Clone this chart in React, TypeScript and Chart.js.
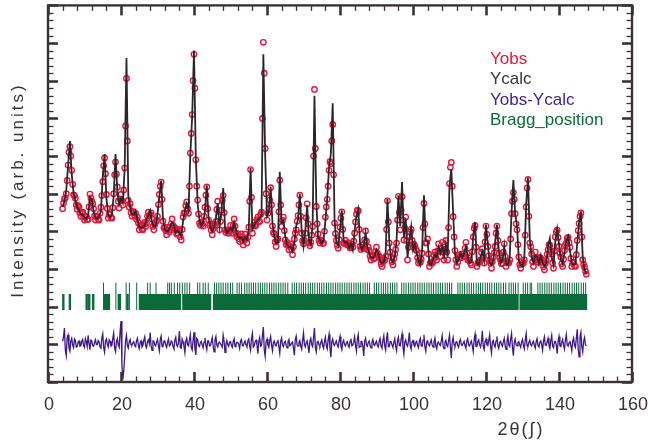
import React, { useEffect, useRef } from "react";
import { Chart, registerables } from "chart.js";

Chart.register(...registerables);

// 2-theta sampling positions (degrees)
const twoTheta = [
  4, 4.5, 5, 5.5, 6, 6.5, 7, 7.5, 8, 8.5,
  9, 9.5, 10, 10.5, 11, 11.5, 12, 12.5, 13, 13.5,
  14, 14.5, 15, 15.5, 16, 16.5, 17, 17.5, 18, 18.5,
  19, 19.5, 20, 20.5, 21, 21.5, 22, 22.5, 23, 23.5,
  24, 24.5, 25, 25.5, 26, 26.5, 27, 27.5, 28, 28.5,
  29, 29.5, 30, 30.5, 31, 31.5, 32, 32.5, 33, 33.5,
  34, 34.5, 35, 35.5, 36, 36.5, 37, 37.5, 38, 38.5,
  39, 39.5, 40, 40.5, 41, 41.5, 42, 42.5, 43, 43.5,
  44, 44.5, 45, 45.5, 46, 46.5, 47, 47.5, 48, 48.5,
  49, 49.5, 50, 50.5, 51, 51.5, 52, 52.5, 53, 53.5,
  54, 54.5, 55, 55.5, 56, 56.5, 57, 57.5, 58, 58.5,
  59, 59.5, 60, 60.5, 61, 61.5, 62, 62.5, 63, 63.5,
  64, 64.5, 65, 65.5, 66, 66.5, 67, 67.5, 68, 68.5,
  69, 69.5, 70, 70.5, 71, 71.5, 72, 72.5, 73, 73.5,
  74, 74.5, 75, 75.5, 76, 76.5, 77, 77.5, 78, 78.5,
  79, 79.5, 80, 80.5, 81, 81.5, 82, 82.5, 83, 83.5,
  84, 84.5, 85, 85.5, 86, 86.5, 87, 87.5, 88, 88.5,
  89, 89.5, 90, 90.5, 91, 91.5, 92, 92.5, 93, 93.5,
  94, 94.5, 95, 95.5, 96, 96.5, 97, 97.5, 98, 98.5,
  99, 99.5, 100, 100.5, 101, 101.5, 102, 102.5, 103, 103.5,
  104, 104.5, 105, 105.5, 106, 106.5, 107, 107.5, 108, 108.5,
  109, 109.5, 110, 110.5, 111, 111.5, 112, 112.5, 113, 113.5,
  114, 114.5, 115, 115.5, 116, 116.5, 117, 117.5, 118, 118.5,
  119, 119.5, 120, 120.5, 121, 121.5, 122, 122.5, 123, 123.5,
  124, 124.5, 125, 125.5, 126, 126.5, 127, 127.5, 128, 128.5,
  129, 129.5, 130, 130.5, 131, 131.5, 132, 132.5, 133, 133.5,
  134, 134.5, 135, 135.5, 136, 136.5, 137, 137.5, 138, 138.5,
  139, 139.5, 140, 140.5, 141, 141.5, 142, 142.5, 143, 143.5,
  144, 144.5, 145, 145.5, 146, 146.5, 147, 147.5,
];

// intermediate 2-theta positions (degrees)
const twoThetaMid = [
  4.25, 4.75, 5.25, 5.75, 6.25, 6.75, 7.25, 7.75, 8.25, 8.75,
  9.25, 9.75, 10.25, 10.75, 11.25, 11.75, 12.25, 12.75, 13.25, 13.75,
  14.25, 14.75, 15.25, 15.75, 16.25, 16.75, 17.25, 17.75, 18.25, 18.75,
  19.25, 19.75, 20.25, 20.75, 21.25, 21.75, 22.25, 22.75, 23.25, 23.75,
  24.25, 24.75, 25.25, 25.75, 26.25, 26.75, 27.25, 27.75, 28.25, 28.75,
  29.25, 29.75, 30.25, 30.75, 31.25, 31.75, 32.25, 32.75, 33.25, 33.75,
  34.25, 34.75, 35.25, 35.75, 36.25, 36.75, 37.25, 37.75, 38.25, 38.75,
  39.25, 39.75, 40.25, 40.75, 41.25, 41.75, 42.25, 42.75, 43.25, 43.75,
  44.25, 44.75, 45.25, 45.75, 46.25, 46.75, 47.25, 47.75, 48.25, 48.75,
  49.25, 49.75, 50.25, 50.75, 51.25, 51.75, 52.25, 52.75, 53.25, 53.75,
  54.25, 54.75, 55.25, 55.75, 56.25, 56.75, 57.25, 57.75, 58.25, 58.75,
  59.25, 59.75, 60.25, 60.75, 61.25, 61.75, 62.25, 62.75, 63.25, 63.75,
  64.25, 64.75, 65.25, 65.75, 66.25, 66.75, 67.25, 67.75, 68.25, 68.75,
  69.25, 69.75, 70.25, 70.75, 71.25, 71.75, 72.25, 72.75, 73.25, 73.75,
  74.25, 74.75, 75.25, 75.75, 76.25, 76.75, 77.25, 77.75, 78.25, 78.75,
  79.25, 79.75, 80.25, 80.75, 81.25, 81.75, 82.25, 82.75, 83.25, 83.75,
  84.25, 84.75, 85.25, 85.75, 86.25, 86.75, 87.25, 87.75, 88.25, 88.75,
  89.25, 89.75, 90.25, 90.75, 91.25, 91.75, 92.25, 92.75, 93.25, 93.75,
  94.25, 94.75, 95.25, 95.75, 96.25, 96.75, 97.25, 97.75, 98.25, 98.75,
  99.25, 99.75, 100.25, 100.75, 101.25, 101.75, 102.25, 102.75, 103.25, 103.75,
  104.25, 104.75, 105.25, 105.75, 106.25, 106.75, 107.25, 107.75, 108.25, 108.75,
  109.25, 109.75, 110.25, 110.75, 111.25, 111.75, 112.25, 112.75, 113.25, 113.75,
  114.25, 114.75, 115.25, 115.75, 116.25, 116.75, 117.25, 117.75, 118.25, 118.75,
  119.25, 119.75, 120.25, 120.75, 121.25, 121.75, 122.25, 122.75, 123.25, 123.75,
  124.25, 124.75, 125.25, 125.75, 126.25, 126.75, 127.25, 127.75, 128.25, 128.75,
  129.25, 129.75, 130.25, 130.75, 131.25, 131.75, 132.25, 132.75, 133.25, 133.75,
  134.25, 134.75, 135.25, 135.75, 136.25, 136.75, 137.25, 137.75, 138.25, 138.75,
  139.25, 139.75, 140.25, 140.75, 141.25, 141.75, 142.25, 142.75, 143.25, 143.75,
  144.25, 144.75, 145.25, 145.75, 146.25, 146.75, 147.25,
];

// Observed intensity (arb. units, axis 0..100)
const yObs = [
  46.0, 48.6, 50.0, 57.6, 62.5, 56.2, 49.7, 48.8, 45.9, 46.4,
  44.0, 45.1, 43.0, 44.0, 43.2, 49.9, 48.0, 46.0, 43.0, 44.0,
  43.0, 46.4, 53.2, 59.5, 49.8, 43.5, 44.6, 43.5, 50.0, 58.4,
  51.8, 46.2, 49.8, 47.0, 56.8, 80.6, 48.2, 47.3, 44.0, 45.1,
  44.8, 43.8, 40.4, 41.6, 40.4, 42.4, 42.2, 45.1, 44.4, 43.3,
  40.4, 42.4, 44.0, 49.8, 53.1, 42.7, 41.1, 39.1, 41.1, 40.4,
  43.3, 40.8, 40.3, 39.5, 40.3, 37.7, 43.8, 44.8, 47.8, 44.8,
  60.8, 71, 87, 59.0, 48.3, 42.2, 42.4, 41.4, 46.4, 51.8,
  43.0, 42.0, 39.1, 42.0, 42.6, 48.0, 40.4, 45.6, 49.5, 40.4,
  40.3, 39.5, 41.6, 39.5, 43.3, 39.5, 39.3, 37.3, 39.3, 36.4,
  39.3, 36.9, 41.1, 56.4, 39.5, 42.4, 41.7, 43.8, 42.6, 45.1,
  90.2, 62, 43.0, 46.0, 51.6, 41.4, 39.3, 36.0, 38.0, 53.6,
  41.3, 43.8, 37.7, 37.1, 35.1, 36.7, 33.8, 38.0, 40.4, 44.2,
  49.6, 39.5, 36.7, 39.5, 47.3, 36.9, 37.1, 41.3, 77.7, 46.6,
  39.3, 36.9, 37.6, 36.9, 43.8, 48.5, 56.2, 58, 68.4, 42.2,
  37.6, 35.5, 41.1, 45.2, 36.9, 37.6, 36.4, 36.3, 36.0, 35.8,
  39.5, 44.6, 45.4, 36.0, 35.8, 35.5, 40.1, 35.1, 34.9, 32.4,
  33.6, 32.9, 35.8, 33.3, 32.7, 30.7, 32.7, 33.3, 48.1, 36.9,
  33.2, 31.1, 34.0, 36.9, 49.3, 40.4, 49.2, 37.7, 43.8, 32.4,
  38.5, 40.5, 35.8, 36.0, 34.9, 31.6, 31.8, 34.2, 47.4, 36.9,
  38.0, 30.7, 31.8, 32.0, 34.5, 32.4, 36.7, 33.3, 37.1, 32.4,
  37.6, 32.4, 52.7, 58.3, 43.9, 34.9, 30.7, 33.6, 33.3, 34.0,
  33.3, 37.1, 32.4, 32.3, 31.1, 38.5, 41.5, 30.7, 31.8, 32.4,
  35.4, 31.6, 41.4, 36.0, 32.3, 30.2, 33.2, 36.0, 41.4, 34.2,
  32.3, 31.6, 36.7, 30.7, 31.8, 32.4, 44.7, 50.3, 44.7, 40.4,
  33.2, 30.2, 31.4, 32.4, 46.5, 53.8, 36.9, 34.0, 30.7, 34.5,
  32.4, 32.3, 32.9, 32.3, 29.8, 32.3, 35.1, 36.3, 34.0, 30.2,
  38.5, 40.3, 36.0, 33.2, 30.7, 34.9, 36.9, 38.4, 35.8, 30.7,
  31.8, 30.7, 37.6, 42.1, 44.9, 32.4, 30.5, 28.6,
];

// Observed intensity at the intermediate positions
const yObsMid = [
  47.5, 48.9, 53.5, 61.0, 60.0, 52.5, 49.5, 47.0, 46.8, 44.9,
  44.9, 43.8, 43.9, 43.1, 46.5, 48.9, 47.3, 44.1, 43.9, 43.2,
  44.8, 49.5, 57.4, 55.3, 46.1, 44.5, 43.7, 46.3, 55.0, 55.2,
  48.0, 48.6, 48.2, 51.0, 68.0, 64.0, 46.5, 45.0, 45.3, 44.2,
  43.2, 42.3, 41.5, 40.6, 41.8, 41.3, 44.0, 44.2, 44.9, 41.3,
  41.8, 42.9, 47.1, 52.0, 48.5, 40.9, 40.2, 40.3, 39.8, 42.0,
  41.6, 41.0, 39.3, 40.5, 38.6, 40.5, 44.9, 46.8, 46.0, 52.0,
  66.0, 80.0, 78.0, 52.0, 44.6, 41.6, 42.0, 44.0, 49.6, 46.0,
  41.6, 40.3, 40.7, 41.6, 45.8, 44.0, 42.6, 48.2, 45.0, 39.7,
  40.1, 40.4, 40.2, 41.6, 41.4, 38.6, 38.0, 38.6, 37.5, 38.2,
  37.9, 38.4, 48.0, 49.0, 41.5, 41.4, 43.1, 42.7, 44.5, 70.0,
  82.0, 50.0, 44.8, 48.3, 47.0, 39.6, 37.2, 37.6, 45.2, 47.0,
  42.9, 40.2, 36.5, 36.4, 36.0, 35.2, 35.9, 39.5, 42.7, 47.0,
  44.0, 37.5, 37.6, 43.6, 42.0, 36.2, 39.0, 60.0, 62.0, 42.0,
  37.6, 37.7, 36.8, 40.0, 46.5, 52.0, 58.5, 64.0, 55.0, 39.4,
  36.3, 37.8, 43.5, 40.5, 36.8, 36.6, 37.0, 35.6, 36.6, 37.4,
  42.5, 45.6, 40.5, 35.2, 36.4, 37.7, 37.4, 35.8, 33.4, 33.4,
  32.7, 34.6, 34.2, 33.4, 31.4, 31.8, 32.3, 40.5, 42.5, 34.5,
  31.9, 32.8, 35.2, 43.0, 45.0, 45.6, 43.0, 40.9, 37.6, 35.8,
  39.8, 37.6, 36.6, 35.2, 33.0, 32.4, 32.6, 41.0, 42.0, 37.0,
  34.0, 31.6, 31.5, 33.6, 33.1, 34.8, 34.8, 35.4, 34.6, 35.2,
  34.5, 41.0, 57.0, 52.0, 38.5, 32.4, 31.8, 33.8, 33.0, 33.9,
  35.5, 34.3, 32.9, 31.6, 34.6, 40.8, 35.8, 31.6, 31.8, 34.4,
  33.1, 37.2, 39.2, 33.5, 31.6, 31.9, 34.3, 39.5, 37.6, 33.0,
  31.4, 34.5, 33.3, 31.6, 31.6, 38.0, 48.0, 48.5, 42.0, 36.5,
  31.2, 31.3, 31.6, 39.0, 51.5, 44.0, 35.9, 31.9, 32.8, 33.0,
  31.8, 33.1, 31.9, 30.6, 31.4, 33.9, 36.5, 34.6, 31.6, 34.8,
  39.8, 38.4, 34.2, 31.4, 32.6, 36.4, 38.1, 37.0, 32.8, 31.6,
  30.9, 33.8, 40.2, 44.0, 38.5, 31.2, 29.4,
];

// Calculated intensity
const yCalc = [
  46.5, 47.9, 50.8, 57.5, 64, 55.2, 50.3, 48.1, 46.6, 45.5,
  44.7, 44.3, 43.7, 43.3, 44.2, 49.0, 48.5, 45.3, 43.7, 43.3,
  43.9, 45.4, 54.5, 60.5, 48.8, 44.4, 43.7, 44.4, 49.5, 60.5,
  50.8, 47.2, 48.7, 47.6, 56.5, 86, 49.5, 46.3, 44.7, 44.4,
  45.4, 43.1, 41.3, 40.9, 41.1, 41.5, 43.1, 44.2, 45.5, 42.4,
  41.3, 41.5, 44.6, 49.3, 53.5, 43.3, 40.4, 40.0, 40.2, 41.3,
  42.3, 41.7, 39.6, 40.2, 39.6, 38.7, 42.8, 45.4, 47.3, 45.4,
  60.5, 70.5, 88, 59.5, 47.3, 43.1, 41.5, 42.3, 45.4, 52.2,
  43.6, 41.3, 40.0, 41.1, 43.5, 47.5, 41.3, 45.0, 51.5, 41.1,
  39.6, 40.2, 40.9, 40.2, 42.4, 40.4, 38.6, 38.2, 38.4, 37.3,
  38.4, 37.8, 40.2, 56.8, 40.4, 41.5, 42.6, 42.9, 43.5, 44.2,
  87, 60, 44, 45, 51.9, 42.1, 38.6, 36.9, 37.1, 55.8,
  42.3, 42.8, 38.6, 36.4, 35.8, 36.0, 34.7, 37.0, 41.4, 43.2,
  50, 40.1, 36.0, 40.1, 46.9, 37.6, 36.4, 42.0, 76, 47.8,
  38.4, 37.8, 36.7, 37.8, 42.8, 48.9, 56.8, 60.7, 74, 43.3,
  36.9, 36.2, 40.5, 45.6, 37.6, 36.9, 37.1, 35.6, 36.7, 35.1,
  40.1, 44.0, 45.8, 36.7, 35.1, 36.2, 39.6, 35.8, 34.2, 33.1,
  32.9, 33.6, 35.1, 34.0, 32.0, 31.6, 31.8, 34.2, 48.6, 37.5,
  32.5, 31.8, 33.3, 37.5, 49.6, 41.4, 53.1, 38.3, 43.4, 33.1,
  37.6, 41.2, 35.1, 36.7, 34.2, 32.3, 31.1, 34.9, 49.6, 37.6,
  37.3, 31.6, 31.1, 32.7, 33.8, 33.1, 35.8, 34.2, 36.2, 33.3,
  36.7, 33.3, 52.3, 56.5, 44.9, 34.0, 31.6, 32.7, 34.2, 33.1,
  34.2, 36.1, 33.3, 31.6, 31.8, 38.8, 42.5, 31.6, 31.1, 33.1,
  34.7, 32.3, 41.8, 36.6, 31.6, 31.1, 32.3, 36.9, 41.8, 34.9,
  31.6, 32.3, 36.2, 31.4, 31.1, 33.1, 45.0, 53.6, 44.5, 41.5,
  32.3, 31.1, 30.7, 33.1, 46.9, 54.2, 37.9, 33.1, 31.6, 33.6,
  33.3, 31.4, 33.6, 31.6, 30.7, 31.4, 36.1, 38.1, 33.1, 31.1,
  37.5, 40.6, 36.7, 32.5, 31.4, 34.2, 37.6, 38.7, 34.9, 31.6,
  31.1, 31.4, 36.9, 42.3, 45.3, 33.1, 29.8, 28.7,
];

// Difference curve (plotted with an offset baseline near 10)
const yDiff = [
  10.8, 14.3, 7.0, 12.5, 8.2, 11.6, 9.1, 11.0, 9.4, 10.9,
  9.6, 11.3, 9.2, 10.7, 12.4, 8.6, 10.9, 9.5, 11.2, 9.9,
  10.6, 9.0, 12.8, 7.9, 11.4, 9.3, 10.8, 9.7, 13.0, 8.1,
  11.5, 9.2, 16.2, 0.6, 6.5, 12.4, 9.0, 11.3, 9.8, 10.7,
  9.4, 11.6, 8.9, 10.9, 9.7, 12.0, 9.1, 11.2, 13.1, 8.4,
  10.8, 9.6, 11.3, 8.3, 12.2, 9.5, 10.9, 9.2, 11.4, 9.8,
  10.6, 8.8, 11.9, 9.4, 13.5, 9.0, 10.7, 7.8, 11.6, 9.6,
  12.6, 8.5, 13.2, 7.2, 11.3, 9.4, 10.8, 9.1, 11.7, 8.6,
  10.9, 9.7, 11.8, 8.0, 12.1, 9.3, 10.6, 9.8, 12.4, 7.9,
  11.0, 9.5, 10.8, 9.2, 11.5, 9.9, 10.5, 8.9, 11.3, 9.6,
  10.9, 9.3, 11.4, 8.4, 12.9, 9.6, 11.1, 7.5, 11.8, 9.7,
  14.6, 6.8, 11.4, 9.2, 12.1, 8.3, 10.9, 9.6, 11.2, 7.6,
  11.7, 9.4, 10.8, 9.1, 11.3, 9.8, 10.6, 7.1, 12.2, 9.5,
  11.0, 8.7, 13.0, 9.3, 10.9, 7.7, 11.6, 9.4, 14.3, 8.0,
  10.8, 9.5, 11.2, 9.0, 11.9, 8.8, 12.7, 6.6, 11.4, 9.7,
  10.9, 9.3, 12.1, 8.6, 11.1, 9.6, 10.7, 9.2, 11.5, 9.8,
  12.0, 8.2, 12.6, 9.4, 10.8, 6.9, 11.6, 9.5, 10.9, 9.1,
  11.3, 9.7, 10.8, 9.3, 11.6, 9.0, 12.3, 8.5, 13.2, 9.4,
  10.7, 9.2, 11.5, 8.3, 11.9, 9.6, 12.8, 7.4, 11.2, 9.5,
  13.1, 8.7, 11.0, 9.4, 10.8, 9.1, 11.6, 9.5, 12.5, 8.2,
  10.9, 9.6, 11.2, 9.3, 11.7, 8.8, 10.6, 9.7, 12.3, 8.9,
  11.1, 9.4, 12.4, 6.4, 11.8, 9.5, 10.7, 9.2, 11.3, 9.7,
  10.8, 9.0, 11.5, 9.6, 10.9, 8.1, 12.7, 9.4, 11.2, 9.3,
  13.6, 8.6, 11.4, 9.7, 12.5, 7.7, 11.0, 9.3, 12.1, 8.9,
  10.8, 9.5, 11.6, 8.7, 12.2, 9.4, 12.9, 7.0, 11.4, 9.6,
  10.7, 9.2, 11.3, 8.8, 12.8, 9.5, 11.1, 9.6, 10.8, 9.0,
  11.5, 9.3, 10.9, 8.4, 12.0, 9.7, 11.6, 8.9, 12.4, 9.1,
  10.8, 7.5, 12.1, 9.4, 11.3, 8.7, 12.6, 9.5, 10.9, 8.3,
  11.7, 9.2, 14.0, 6.7, 13.2, 8.0, 11.8, 9.6,
];

// Difference at the intermediate positions
const yDiffMid = [
  12.0, 8.4, 11.8, 9.0, 10.9, 9.8, 11.4, 9.3, 10.6, 9.5,
  10.8, 9.7, 11.5, 9.4, 10.2, 11.1, 9.6, 10.5, 9.9, 11.0,
  9.3, 11.7, 9.1, 10.9, 10.0, 11.2, 9.5, 11.6, 9.0, 10.7,
  9.8, 13.4, 4.5, 3.0, 11.0, 9.6, 10.8, 9.9, 10.4, 9.7,
  10.9, 9.8, 10.5, 9.3, 11.1, 9.6, 10.7, 10.2, 9.5, 10.9,
  9.9, 10.6, 9.7, 11.3, 9.4, 10.8, 9.8, 10.5, 9.6, 10.9,
  9.4, 11.1, 9.8, 10.6, 9.2, 11.4, 9.5, 10.8, 9.9, 11.2,
  9.2, 11.0, 8.9, 11.6, 9.7, 10.5, 9.9, 10.6, 9.8, 10.9,
  9.6, 10.7, 9.5, 11.3, 9.8, 10.4, 10.1, 9.3, 10.8, 10.0,
  9.9, 10.6, 9.7, 10.8, 9.4, 10.5, 10.0, 10.9, 9.7, 10.4,
  9.8, 10.9, 9.6, 11.5, 9.3, 10.7, 9.9, 10.8, 9.5, 12.2,
  8.5, 10.6, 9.8, 11.0, 9.7, 10.5, 9.8, 10.6, 9.4, 10.8,
  9.9, 10.5, 9.7, 10.8, 9.6, 10.4, 9.0, 11.3, 9.8, 10.5,
  9.6, 11.0, 10.0, 10.4, 9.5, 10.9, 9.9, 11.8, 9.2, 10.6,
  9.9, 10.5, 9.7, 10.8, 9.6, 11.2, 9.1, 10.7, 10.0, 10.4,
  9.8, 10.9, 9.5, 10.6, 9.9, 10.4, 9.7, 10.8, 9.6, 10.5,
  9.7, 11.4, 9.2, 10.7, 9.5, 10.8, 9.8, 10.5, 9.6, 10.6,
  9.9, 10.4, 9.7, 10.9, 9.5, 11.0, 9.6, 11.3, 9.4, 10.7,
  9.8, 10.6, 9.5, 11.0, 9.7, 11.4, 9.3, 10.6, 9.9, 10.8,
  9.6, 10.7, 9.8, 10.5, 9.7, 10.9, 9.6, 11.1, 9.4, 10.6,
  9.9, 10.5, 9.8, 10.7, 9.6, 10.4, 9.9, 10.9, 9.5, 10.6,
  9.8, 11.0, 9.3, 10.6, 9.9, 10.5, 9.7, 10.8, 9.8, 10.3,
  9.7, 10.9, 9.8, 10.4, 9.6, 11.2, 9.5, 10.7, 9.9, 10.6,
  9.4, 10.8, 9.9, 11.0, 9.5, 10.6, 9.8, 10.9, 9.6, 10.5,
  9.9, 10.7, 9.6, 10.9, 9.8, 11.4, 9.2, 10.6, 9.9, 10.4,
  9.8, 10.6, 9.7, 11.1, 9.6, 10.5, 9.9, 10.4, 9.7, 10.8,
  9.6, 10.5, 9.9, 10.9, 9.8, 10.6, 9.7, 11.0, 9.5, 10.7,
  9.9, 10.8, 9.6, 10.5, 9.7, 11.1, 9.8, 10.4, 9.6, 10.9,
  9.7, 11.6, 9.0, 11.9, 9.4, 10.8, 9.9,
];

// Bragg reflection positions (degrees)
const braggShort = [
  4.2, 6.0, 10.6, 11.3, 12.4, 15.6, 16.1, 16.7, 19.4, 19.7, 21.8, 25.2,
  25.6, 26.2, 26.7, 27.3, 27.8, 28.4, 28.9, 29.5, 30.0, 30.6, 31.1, 31.7, 32.2, 32.8,
  33.3, 33.9, 34.4, 35.0, 35.5, 36.1, 37.3, 37.8, 38.4, 38.9, 39.5, 40.0, 40.6, 41.1,
  41.7, 42.2, 42.8, 43.3, 43.9, 44.4, 45.5, 46.0, 46.6, 47.1, 47.7, 48.2, 48.8, 49.3,
  49.9, 50.4, 51.0, 51.5, 52.1, 52.6, 53.2, 53.7, 54.3, 54.8, 55.4, 55.9, 56.5, 57.0,
  57.6, 58.1, 58.7, 59.2, 59.8, 60.3, 60.9, 61.4, 62.0, 62.5, 63.1, 63.6, 64.2, 64.7,
  65.3, 65.8, 66.4, 66.9, 67.5, 68.0, 68.6, 69.1, 69.7, 70.2, 70.8, 71.3, 71.9, 72.4,
  73.0, 73.5, 74.1, 74.6, 75.2, 75.7, 76.3, 76.8, 77.4, 77.9, 78.5, 79.0, 79.6, 80.1,
  80.7, 81.2, 81.8, 82.3, 82.9, 83.4, 84.0, 84.5, 85.1, 85.6, 86.2, 86.7, 87.3, 87.8,
  88.4, 88.9, 89.5, 90.0, 90.6, 91.1, 91.7, 92.2, 92.8, 93.3, 93.9, 94.4, 95.0, 95.5,
  96.1, 96.6, 97.2, 97.7, 98.3, 98.8, 99.4, 99.9, 100.5, 101.0, 101.6, 102.1, 102.7,
  103.2, 103.8, 104.3, 104.9, 105.4, 106.0, 106.5, 107.1, 107.6, 108.2, 108.7, 109.3,
  109.8, 110.4, 110.9, 111.5, 112.0, 112.6, 113.1, 113.7, 114.2, 114.8, 115.3, 115.9,
  116.4, 117.0, 117.5, 118.1, 118.6, 119.2, 119.7, 120.3, 120.8, 121.4, 121.9, 122.5,
  123.0, 123.6, 124.1, 124.7, 125.2, 125.8, 126.3, 126.9, 127.4, 128.0, 128.5, 129.5,
  130.0, 130.6, 131.1, 131.7, 132.2, 132.8, 133.3, 133.9, 134.4, 135.0, 135.5, 136.1,
  136.6, 137.2, 137.7, 138.3, 138.8, 139.4, 139.9, 140.5, 141.0, 141.6, 142.1, 142.7,
  143.2, 143.8, 144.3, 144.9, 145.4, 146.0, 146.5, 147.1, 147.4,
];

const braggTall = [
  15.2, 18.6, 21.4, 22.3, 24.3, 27.3, 28.0, 29.6, 32.8, 33.3, 33.8, 34.6, 35.5, 36.1,
  36.8, 37.5, 38.1, 38.8, 41.0, 41.6, 42.5, 43.1, 43.9, 45.6, 46.2, 46.8, 47.4, 48.0,
  48.7, 49.3, 50.0, 50.6, 51.8, 52.4, 53.0, 53.9, 54.5, 55.1, 55.7, 56.3, 56.9, 57.6,
  58.2, 58.8, 59.4, 60.0, 60.7, 61.3, 61.9, 62.5, 63.2, 63.8, 64.4, 65.0, 65.7, 66.9,
  67.5, 68.1, 68.8, 69.4, 70.0, 70.6, 71.3, 71.9, 72.5, 73.1, 73.8, 74.4, 75.0, 75.6,
  76.3, 76.9, 77.5, 78.1, 78.8, 79.4, 80.0, 80.6, 81.3, 81.9, 82.5, 83.1, 83.8, 84.4,
  85.0, 85.6, 86.3, 86.9, 87.5, 88.1, 89.4, 90.0, 90.6, 91.3, 91.9, 92.5, 93.1, 93.8,
  94.4, 95.0, 95.6, 96.9, 97.5, 98.1, 98.8, 99.4, 100.0, 100.6, 101.3, 101.9, 102.5,
  103.1, 103.8, 104.4, 105.0, 105.6, 106.3, 106.9, 107.5, 108.1, 108.8, 109.4, 110.0,
  110.6, 112.3, 112.9, 113.5, 114.1, 114.8, 115.4, 116.0, 116.6, 117.3, 117.9, 118.5,
  119.1, 119.8, 120.4, 121.0, 121.6, 122.3, 122.9, 123.5, 124.1, 124.8, 125.4, 126.3,
  126.9, 127.5, 128.1, 128.8, 130.2, 130.8, 131.4, 132.1, 132.5, 134.2, 134.8, 135.4,
  136.1, 136.7, 137.3, 137.9, 138.6, 139.2, 139.8, 140.4, 141.1, 141.7, 142.3, 142.9,
  143.6, 144.2, 144.8, 145.4, 146.1, 146.7, 147.3,
];

// Tick-mark levels for Bragg rows (in y-axis units)
const braggBase = 19.1;
const braggShortTop = 23.4;
const braggTallTop = 26.4;

const xTickLabels = [0, 20, 40, 60, 80, 100, 120, 140, 160];
const xMinorStep = 4;
const yMajorStep = 10;
const yMinorStep = 2;

const legendLabels = ["Yobs", "Ycalc", "Yobs-Ycalc", "Bragg_position"];
const legendColors = ["#e8173a", "#3a3438", "#43238f", "#0c6b3c"];

const xTitle = "2θ(∫)";
const yTitle = "Intensity (arb. units)";

const AXIS_COLOR = "#3b3237";
const FONT = "'Liberation Sans', Arial, Helvetica, sans-serif";

function tickSegments(positions: number[], lo: number, hi: number) {
  const out: { x: number; y: number | null }[] = [];
  positions.forEach((p) => {
    out.push({ x: p, y: lo }, { x: p, y: hi }, { x: p, y: null });
  });
  return out;
}

// merge the half-degree and intermediate samples into one ordered table
function interleave(xa: number[], ya: number[], xb: number[], yb: number[]) {
  const out: { x: number; y: number }[] = [];
  xa.forEach((x, i) => {
    out.push({ x, y: ya[i] });
    if (i < xb.length) out.push({ x: xb[i], y: yb[i] });
  });
  return out;
}

const framePlugin = {
  id: "rietveldFrame",
  afterDatasetsDraw(chart: any) {
    const { ctx, chartArea: a, scales } = chart;
    const xs = scales.x;
    const ys = scales.y;
    ctx.save();
    ctx.strokeStyle = AXIS_COLOR;
    ctx.lineCap = "butt";
    const seg = (x1: number, y1: number, x2: number, y2: number, w: number) => {
      ctx.lineWidth = w;
      ctx.beginPath();
      ctx.moveTo(x1, y1);
      ctx.lineTo(x2, y2);
      ctx.stroke();
    };
    const majorX = xTickLabels[1] - xTickLabels[0];
    for (let v = xs.min; v <= xs.max + 1e-6; v += xMinorStep) {
      const major = Math.abs(v / majorX - Math.round(v / majorX)) < 1e-6;
      const px = Math.round(xs.getPixelForValue(v)) + 0.5;
      const len = major ? 10 : 5.5;
      const w = major ? 2.6 : 1.3;
      seg(px, a.bottom, px, a.bottom - len, w);
      seg(px, a.top, px, a.top + len, w);
    }
    for (let v = ys.min; v <= ys.max + 1e-6; v += yMinorStep) {
      const major = Math.abs(v / yMajorStep - Math.round(v / yMajorStep)) < 1e-6;
      const py = Math.round(ys.getPixelForValue(v)) + 0.5;
      const len = major ? 10 : 5.5;
      const w = major ? 2.6 : 1.3;
      seg(a.left, py, a.left + len, py, w);
      seg(a.right, py, a.right - len, py, w);
    }
    ctx.lineWidth = 2.4;
    ctx.strokeRect(a.left, a.top, a.right - a.left, a.bottom - a.top);

    // x tick labels
    ctx.fillStyle = AXIS_COLOR;
    ctx.font = `18px ${FONT}`;
    ctx.textAlign = "center";
    ctx.textBaseline = "middle";
    xTickLabels.forEach((v) => {
      ctx.fillText(String(v), xs.getPixelForValue(v) + 1, a.bottom + 23);
    });

    // axis titles
    ctx.save();
    try { (ctx as any).letterSpacing = "2px"; } catch (e) {}
    ctx.font = `18px ${FONT}`;
    ctx.fillText(xTitle, 521, a.bottom + 48);
    ctx.restore();

    ctx.save();
    ctx.fillStyle = AXIS_COLOR;
    ctx.textAlign = "center";
    ctx.textBaseline = "middle";
    try { (ctx as any).letterSpacing = "3px"; } catch (e) {}
    ctx.translate(18, 190);
    ctx.rotate(-Math.PI / 2);
    ctx.font = `17px ${FONT}`;
    ctx.fillText(yTitle, 0, 0);
    ctx.restore();

    // legend
    ctx.font = `17px ${FONT}`;
    ctx.textAlign = "left";
    ctx.textBaseline = "alphabetic";
    legendLabels.forEach((t, i) => {
      ctx.fillStyle = legendColors[i];
      ctx.fillText(t, 490, 64 + i * 20.4);
    });
    ctx.restore();
  },
};

export default function App() {
  const canvasRef = useRef<HTMLCanvasElement | null>(null);

  useEffect(() => {
    const canvas = canvasRef.current;
    if (!canvas) return;
    const chart = new Chart(canvas, {
      type: "line",
      data: {
        datasets: [
          {
            label: "Ycalc",
            data: twoTheta.map((x, i) => ({ x, y: yCalc[i] })),
            borderColor: "#2c2529",
            borderWidth: 1.8,
            pointRadius: 0,
            tension: 0,
            order: 1,
          },
          {
            label: "Yobs",
            data: interleave(twoTheta, yObs, twoThetaMid, yObsMid),
            showLine: false,
            pointRadius: 2.7,
            pointBorderWidth: 1.4,
            pointBorderColor: "#e6163b",
            pointBackgroundColor: "rgba(255,255,255,0)",
            borderColor: "#e6163b",
            order: 2,
          },
          {
            label: "Yobs-Ycalc",
            data: interleave(twoTheta, yDiff, twoThetaMid, yDiffMid),
            borderColor: "#3d1a87",
            borderWidth: 1.3,
            pointRadius: 0,
            tension: 0,
            order: 3,
          },
          {
            label: "Bragg_position",
            data: tickSegments(braggShort, braggBase, braggShortTop),
            borderColor: "#0b6a3a",
            borderWidth: 2.4,
            pointRadius: 0,
            spanGaps: false,
            order: 4,
          },
          {
            label: "Bragg_position_upper",
            data: tickSegments(braggTall, braggBase, braggTallTop),
            borderColor: "#0b6a3a",
            borderWidth: 1,
            pointRadius: 0,
            spanGaps: false,
            order: 5,
          },
        ],
      },
      options: {
        animation: false,
        responsive: false,
        devicePixelRatio: 1,
        layout: { padding: { left: 48, right: 16, top: 5, bottom: 62 } },
        scales: {
          x: { type: "linear", min: 0, max: 160, display: false },
          y: { type: "linear", min: 0, max: 100, display: false },
        },
        plugins: {
          legend: { display: false },
          tooltip: { enabled: false },
        },
        events: [],
      },
      plugins: [framePlugin],
    });
    return () => chart.destroy();
  }, []);

  return (
    <div style={{ position: "fixed", left: 0, top: 0, width: 648, height: 444, background: "#fff" }}>
      <canvas ref={canvasRef} width={648} height={444} />
    </div>
  );
}
